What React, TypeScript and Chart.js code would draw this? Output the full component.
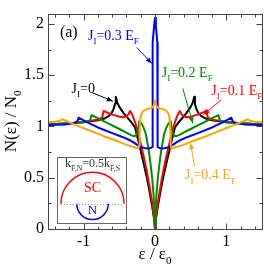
import React, { useEffect, useRef } from 'react';
import { Chart, registerables } from 'chart.js';
Chart.register(...registerables);

const SERIF = '"Liberation Serif", "Times New Roman", serif';

// ---- data ----
const blackX = [-1.5, -1.2, -1.0, -0.9, -0.8, -0.7, -0.65, -0.61, -0.58, -0.56, -0.55, -0.53, -0.5, -0.44, -0.38, -0.33, -0.28, -0.24, -0.2, -0.16, -0.12, -0.08, -0.04, -0.02, -0.01, 0, 0.01, 0.02, 0.04, 0.08, 0.12, 0.16, 0.2, 0.24, 0.28, 0.33, 0.38, 0.44, 0.5, 0.53, 0.55, 0.56, 0.58, 0.61, 0.65, 0.7, 0.8, 0.9, 1.0, 1.2, 1.5];
const blackY = [1.02, 1.03, 1.04, 1.05, 1.06, 1.08, 1.10, 1.13, 1.17, 1.22, 1.29, 1.235, 1.19, 1.13, 1.08, 1.04, 0.99, 0.88, 0.76, 0.64, 0.52, 0.38, 0.22, 0.13, 0.08, 0, 0.08, 0.13, 0.22, 0.38, 0.52, 0.64, 0.76, 0.88, 0.99, 1.04, 1.08, 1.13, 1.19, 1.235, 1.29, 1.22, 1.17, 1.13, 1.10, 1.08, 1.06, 1.05, 1.04, 1.03, 1.02];

const redX = [-1.5, -1.2, -1.0, -0.85, -0.78, -0.74, -0.72, -0.7, -0.65, -0.6, -0.55, -0.5, -0.45, -0.4, -0.37, -0.35, -0.33, -0.3, -0.27, -0.24, -0.2, -0.16, -0.12, -0.08, -0.04, -0.02, -0.01, 0, 0.01, 0.02, 0.04, 0.08, 0.12, 0.16, 0.2, 0.24, 0.27, 0.3, 0.33, 0.35, 0.37, 0.4, 0.45, 0.5, 0.55, 0.6, 0.65, 0.7, 0.72, 0.74, 0.78, 0.85, 1.0, 1.2, 1.5];
const redY = [1.02, 1.03, 1.045, 1.06, 1.07, 1.09, 1.15, 1.145, 1.13, 1.115, 1.105, 1.095, 1.09, 1.10, 1.12, 1.15, 1.13, 1.08, 1.02, 0.94, 0.83, 0.71, 0.58, 0.43, 0.26, 0.15, 0.09, 0, 0.09, 0.15, 0.26, 0.43, 0.58, 0.71, 0.83, 0.94, 1.02, 1.08, 1.13, 1.15, 1.12, 1.10, 1.09, 1.095, 1.105, 1.115, 1.13, 1.145, 1.15, 1.09, 1.07, 1.06, 1.045, 1.03, 1.02];

const greenX = [-1.5, -1.2, -1.05, -0.95, -0.91, -0.89, -0.8, -0.7, -0.6, -0.5, -0.4, -0.35, -0.3, -0.27, -0.24, -0.22, -0.19, -0.16, -0.13, -0.1, -0.08, -0.06, -0.04, -0.02, -0.01, 0, 0.01, 0.02, 0.04, 0.06, 0.08, 0.1, 0.13, 0.16, 0.19, 0.22, 0.24, 0.27, 0.3, 0.35, 0.4, 0.5, 0.6, 0.7, 0.8, 0.89, 0.91, 0.95, 1.05, 1.2, 1.5];
const greenY = [1.02, 1.03, 1.035, 1.045, 1.06, 1.11, 1.08, 1.045, 1.01, 0.975, 0.94, 0.92, 0.905, 0.91, 0.95, 1.05, 1.03, 0.99, 0.93, 0.82, 0.73, 0.62, 0.5, 0.33, 0.2, 0, 0.2, 0.33, 0.5, 0.62, 0.73, 0.82, 0.93, 0.99, 1.03, 1.05, 0.95, 0.91, 0.905, 0.92, 0.94, 0.975, 1.01, 1.045, 1.08, 1.11, 1.06, 1.045, 1.035, 1.03, 1.02];

const blueX = [-1.5, -1.25, -1.13, -1.09, -1.07, -0.95, -0.8, -0.6, -0.45, -0.35, -0.3, -0.25, -0.2, -0.15, -0.1, -0.06, -0.04, -0.034, -0.032, -0.025, -0.012, 0, 0.012, 0.025, 0.032, 0.034, 0.04, 0.06, 0.1, 0.15, 0.2, 0.25, 0.3, 0.35, 0.45, 0.6, 0.8, 0.95, 1.07, 1.09, 1.13, 1.25, 1.5];
const blueY = [1.015, 1.02, 1.03, 1.05, 1.085, 1.04, 0.99, 0.935, 0.895, 0.865, 0.845, 0.82, 0.80, 0.79, 0.785, 0.79, 0.80, 0.86, 1.82, 1.88, 1.98, 2.06, 1.98, 1.88, 1.82, 0.86, 0.80, 0.79, 0.785, 0.79, 0.80, 0.82, 0.845, 0.865, 0.895, 0.935, 0.99, 1.04, 1.085, 1.05, 1.03, 1.02, 1.015];

const orangeX = [-1.5, -1.4, -1.33, -1.3, -1.1, -0.9, -0.7, -0.5, -0.4, -0.3, -0.23, -0.22, -0.215, -0.205, -0.19, -0.17, -0.14, -0.1, -0.07, -0.035, -0.015, 0, 0.015, 0.035, 0.07, 0.1, 0.14, 0.17, 0.19, 0.205, 0.215, 0.22, 0.23, 0.3, 0.4, 0.5, 0.7, 0.9, 1.1, 1.3, 1.33, 1.4, 1.5];
const orangeY = [1.04, 1.045, 1.055, 1.07, 1.01, 0.955, 0.90, 0.85, 0.82, 0.80, 0.785, 0.82, 0.96, 1.08, 1.12, 1.145, 1.16, 1.17, 1.175, 1.185, 1.21, 1.25, 1.21, 1.185, 1.175, 1.17, 1.16, 1.145, 1.12, 1.08, 0.96, 0.82, 0.785, 0.80, 0.82, 0.85, 0.90, 0.955, 1.01, 1.07, 1.055, 1.045, 1.04];

const xMajorTicks = [-1, 0, 1];
const xMinorTicks = [-1.4, -1.2, -0.8, -0.6, -0.4, -0.2, 0.2, 0.4, 0.6, 0.8, 1.2, 1.4];
const yMajorTicks = [0, 0.5, 1, 1.5, 2];
const yMinorTicks = [0.25, 0.75, 1.25, 1.75];

// ---- styles / layout ----
const COLORS = { black: '#000000', red: '#ff0000', green: '#008b00', blue: '#0000ff', orange: '#ffa500' };

type Seg = { t: string; sub?: boolean };

const annotations = [
  { segs: [{ t: '(a)' }], x: -1.333, y: 1.87, size: 16, color: '#000000' },
  { segs: [{ t: 'J' }, { t: 'I', sub: true }, { t: '=0.3 E' }, { t: 'F', sub: true }], x: -0.94, y: 1.845, size: 14, color: COLORS.blue },
  { segs: [{ t: 'J' }, { t: 'I', sub: true }, { t: '=0' }], x: -1.17, y: 1.327, size: 14, color: COLORS.black },
  { segs: [{ t: 'J' }, { t: 'I', sub: true }, { t: '=0.2 E' }, { t: 'F', sub: true }], x: 0.094, y: 1.484, size: 14, color: COLORS.green },
  { segs: [{ t: 'J' }, { t: 'I', sub: true }, { t: '=0.1 E' }, { t: 'F', sub: true }], x: 0.79, y: 1.309, size: 14, color: COLORS.red },
  { segs: [{ t: 'J' }, { t: 'I', sub: true }, { t: '=0.4 E' }, { t: 'F', sub: true }], x: 0.42, y: 0.484, size: 14, color: COLORS.orange },
];

const arrows = [
  { x1: -0.255, y1: 1.77, x2: -0.046, y2: 1.613, color: COLORS.blue },
  { x1: -0.88, y1: 1.33, x2: -0.59, y2: 1.245, color: COLORS.black },
  { x1: 0.39, y1: 1.37, x2: 0.53, y2: 1.03, color: COLORS.green },
  { x1: 0.93, y1: 1.26, x2: 0.68, y2: 1.115, color: COLORS.red },
  { x1: 0.555, y1: 0.608, x2: 0.50, y2: 0.835, color: COLORS.orange },
];

const inset = { x0: -1.372, x1: -0.41, y0: 0.055, y1: 0.701, cx: -0.876, cy: 0.246, rBig: 0.443, rSmall: 0.221 };

function drawRich(ctx: CanvasRenderingContext2D, segs: Seg[], x: number, y: number, size: number, color: string, align: 'left' | 'center' = 'left') {
  ctx.save();
  ctx.fillStyle = color;
  ctx.textBaseline = 'alphabetic';
  ctx.textAlign = 'left';
  const subSize = size * 0.65;
  let w = 0;
  for (const s of segs) {
    ctx.font = `${s.sub ? subSize : size}px ${SERIF}`;
    w += ctx.measureText(s.t).width;
  }
  let cx = align === 'center' ? x - w / 2 : x;
  for (const s of segs) {
    ctx.font = `${s.sub ? subSize : size}px ${SERIF}`;
    ctx.fillText(s.t, cx, s.sub ? y + size * 0.3 : y);
    cx += ctx.measureText(s.t).width;
  }
  ctx.restore();
}

const decorPlugin = {
  id: 'decor',
  afterDatasetsDraw(chart: any) {
    const ctx: CanvasRenderingContext2D = chart.ctx;
    const { left, right, top, bottom } = chart.chartArea;
    const xs = chart.scales.x;
    const ys = chart.scales.y;
    const px = (v: number) => xs.getPixelForValue(v);
    const py = (v: number) => ys.getPixelForValue(v);

    ctx.save();
    // frame
    ctx.strokeStyle = '#444';
    ctx.lineWidth = 1;
    const L = Math.round(left) + 0.5, R = Math.round(right) + 0.5, T = Math.round(top) + 0.5, B = Math.round(bottom) + 0.5;
    ctx.strokeRect(L, T, R - L, B - T);
    // ticks
    ctx.beginPath();
    const xt = (v: number, len: number) => {
      const p = Math.round(px(v)) + 0.5;
      ctx.moveTo(p, B); ctx.lineTo(p, B - len);
      ctx.moveTo(p, T); ctx.lineTo(p, T + len);
    };
    const yt = (v: number, len: number) => {
      const p = Math.round(py(v)) + 0.5;
      ctx.moveTo(L, p); ctx.lineTo(L + len, p);
      ctx.moveTo(R, p); ctx.lineTo(R - len, p);
    };
    xMajorTicks.forEach((v) => xt(v, 6));
    xMinorTicks.forEach((v) => xt(v, 3));
    yMajorTicks.forEach((v) => yt(v, 6));
    yMinorTicks.forEach((v) => yt(v, 3));
    ctx.stroke();

    // axis titles
    drawRich(ctx, [{ t: 'ε / ε' }, { t: '0', sub: true }], (left + right) / 2, bottom + 30, 17, '#000', 'center');
    ctx.save();
    ctx.translate(16, (top + bottom) / 2);
    ctx.rotate(-Math.PI / 2);
    drawRich(ctx, [{ t: 'N(ε) / N' }, { t: '0', sub: true }], 0, 0, 17, '#000', 'center');
    ctx.restore();

    // annotations
    for (const a of annotations) drawRich(ctx, a.segs, px(a.x), py(a.y), a.size, a.color);
    for (const a of arrows) {
      const x1 = px(a.x1), y1 = py(a.y1), x2 = px(a.x2), y2 = py(a.y2);
      ctx.strokeStyle = a.color; ctx.fillStyle = a.color; ctx.lineWidth = 1;
      ctx.beginPath(); ctx.moveTo(x1, y1); ctx.lineTo(x2, y2); ctx.stroke();
      const ang = Math.atan2(y2 - y1, x2 - x1);
      const hl = 6, hw = 2.5;
      ctx.beginPath();
      ctx.moveTo(x2, y2);
      ctx.lineTo(x2 - hl * Math.cos(ang) + hw * Math.sin(ang), y2 - hl * Math.sin(ang) - hw * Math.cos(ang));
      ctx.lineTo(x2 - hl * Math.cos(ang) - hw * Math.sin(ang), y2 - hl * Math.sin(ang) + hw * Math.cos(ang));
      ctx.closePath(); ctx.fill();
    }

    // inset
    const bx0 = Math.round(px(inset.x0)) + 0.5, bx1 = Math.round(px(inset.x1)) + 0.5;
    const by0 = Math.round(py(inset.y1)) + 0.5, by1 = Math.round(py(inset.y0)) + 0.5;
    ctx.fillStyle = '#ffffff';
    ctx.fillRect(bx0, by0, bx1 - bx0, by1 - by0);
    ctx.strokeStyle = '#666';
    ctx.lineWidth = 1;
    ctx.strokeRect(bx0, by0, bx1 - bx0, by1 - by0);
    const ccx = px(inset.cx), ccy = py(inset.cy);
    const rB = Math.abs(px(inset.cx + inset.rBig) - ccx);
    const rS = Math.abs(px(inset.cx + inset.rSmall) - ccx);
    ctx.lineWidth = 1.5;
    ctx.strokeStyle = COLORS.red;
    ctx.beginPath(); ctx.arc(ccx, ccy, rB, Math.PI, 2 * Math.PI); ctx.stroke();
    ctx.strokeStyle = COLORS.blue;
    ctx.beginPath(); ctx.arc(ccx, ccy, rS, 0, Math.PI); ctx.stroke();
    ctx.strokeStyle = '#888'; ctx.lineWidth = 1; ctx.setLineDash([1, 2]);
    ctx.beginPath(); ctx.moveTo(ccx - rB, Math.round(ccy) + 0.5); ctx.lineTo(ccx + rB, Math.round(ccy) + 0.5); ctx.stroke();
    ctx.setLineDash([]);
    drawRich(ctx, [{ t: 'k' }, { t: 'F,N', sub: true }, { t: '=0.5k' }, { t: 'F,S', sub: true }], ccx, py(0.6), 12, '#333', 'center');
    drawRich(ctx, [{ t: 'SC' }], ccx, py(0.359), 14, COLORS.red, 'center');
    drawRich(ctx, [{ t: 'N' }], ccx, py(0.147), 13, COLORS.blue, 'center');
    ctx.restore();
  },
};

const pts = (xs: number[], ys: number[]) => xs.map((x, i) => ({ x, y: ys[i] }));

export default function App() {
  const ref = useRef<HTMLCanvasElement>(null);
  useEffect(() => {
    document.body.style.margin = '0';
    const mk = (data: any, color: string, order: number) => ({
      data, borderColor: color, backgroundColor: color, borderWidth: 2, pointRadius: 0,
      showLine: true, tension: 0, borderJoinStyle: 'round', borderCapStyle: 'round', order, fill: false,
    });
    const chart = new Chart(ref.current!, {
      type: 'scatter',
      data: {
        datasets: [
          mk(pts(blackX, blackY), COLORS.black, 5),
          mk(pts(redX, redY), COLORS.red, 4),
          mk(pts(greenX, greenY), COLORS.green, 3),
          mk(pts(blueX, blueY), COLORS.blue, 2),
          mk(pts(orangeX, orangeY), COLORS.orange, 1),
        ] as any,
      },
      options: {
        responsive: false,
        animation: false,
        devicePixelRatio: 1,
        layout: { padding: { top: 1, right: 2, left: 0, bottom: 0 } },
        plugins: { legend: { display: false }, tooltip: { enabled: false } },
        scales: {
          x: {
            type: 'linear', min: -1.5, max: 1.5,
            afterBuildTicks: (s: any) => { s.ticks = xMajorTicks.map((v) => ({ value: v })); },
            afterFit: (s: any) => { s.height = 41; },
            grid: { display: false, drawTicks: false },
            border: { display: false },
            ticks: { padding: 3, color: '#000', font: { family: SERIF, size: 16 }, callback: (v: any) => String(v), maxRotation: 0 },
          },
          y: {
            type: 'linear', min: 0, max: 2.1,
            afterBuildTicks: (s: any) => { s.ticks = yMajorTicks.map((v) => ({ value: v })); },
            afterFit: (s: any) => { s.width = 48; },
            grid: { display: false, drawTicks: false },
            border: { display: false },
            ticks: { padding: 4, color: '#000', font: { family: SERIF, size: 16 }, callback: (v: any) => String(v) },
          },
        },
      } as any,
      plugins: [decorPlugin],
    });
    return () => chart.destroy();
  }, []);
  return (
    <div style={{ position: 'absolute', left: 0, top: 0, width: 264, height: 270 }}>
      <canvas ref={ref} width={264} height={270} style={{ display: 'block' }} />
    </div>
  );
}
